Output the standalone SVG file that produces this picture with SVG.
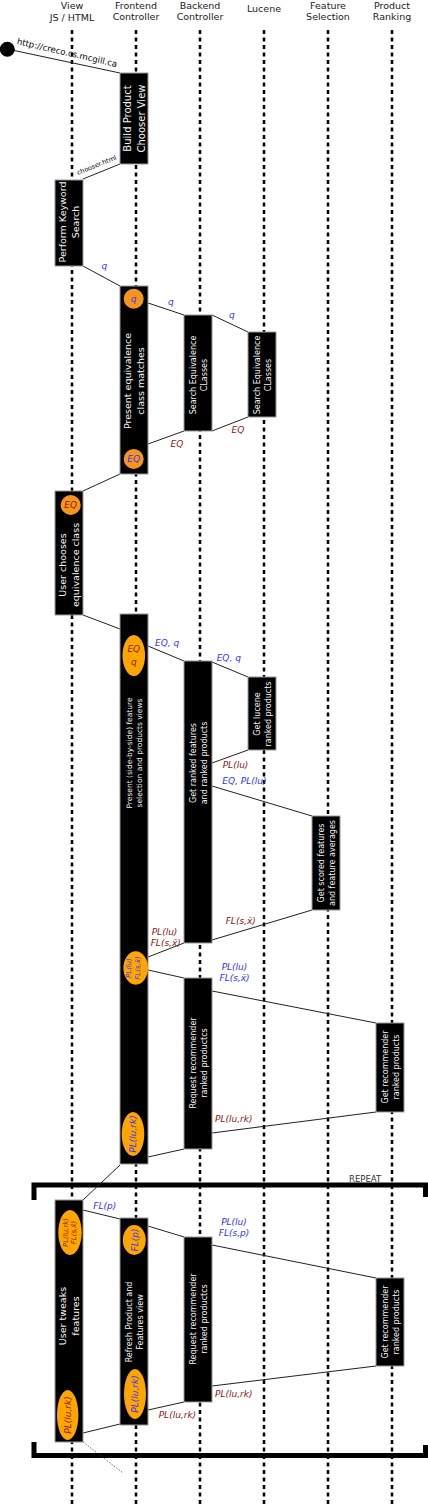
<svg xmlns="http://www.w3.org/2000/svg" width="428" height="1505" viewBox="0 0 428 1505">
<style>
.hd{font-family:"DejaVu Sans",sans-serif;font-size:9.5px;fill:#222;text-anchor:middle}
.ll{stroke:#000;stroke-width:2.5;stroke-dasharray:4 3.5;fill:none}
.box{fill:#000;stroke:#999;stroke-width:1}
.bt{font-family:"DejaVu Sans",sans-serif;fill:#f4f4f4;text-anchor:middle}
.cn{stroke:#222;stroke-width:1;fill:none}
.lb{font-family:"DejaVu Sans",sans-serif;font-style:italic;font-size:9px}
.b{fill:#3333ff}
.r{fill:#8b1a1a}
.oc{fill:#f7941d}
.oe{fill:#ffa500}
.fr{stroke:#000;stroke-width:5;fill:none}
</style>
<rect width="428" height="1505" fill="#fff"/>
<g id="headers">
<text class="hd" x="72" y="9.3">View</text><text class="hd" x="72" y="20.7">JS / HTML</text>
<text class="hd" x="136" y="8.5">Frontend</text><text class="hd" x="136" y="20">Controller</text>
<text class="hd" x="200" y="8.5">Backend</text><text class="hd" x="200" y="20">Controller</text>
<text class="hd" x="264" y="11.7">Lucene</text>
<text class="hd" x="328" y="8.5">Feature</text><text class="hd" x="328" y="20">Selection</text>
<text class="hd" x="392" y="8.5">Product</text><text class="hd" x="392" y="20">Ranking</text>
</g>
<g id="lifelines">
<line class="ll" x1="72" y1="30" x2="72" y2="1505"/>
<line class="ll" x1="136" y1="30" x2="136" y2="1505"/>
<line class="ll" x1="200" y1="30" x2="200" y2="1505"/>
<line class="ll" x1="264" y1="30" x2="264" y2="1505"/>
<line class="ll" x1="328" y1="30" x2="328" y2="1505"/>
<line class="ll" x1="392" y1="30" x2="392" y2="1505"/>
</g>
<g id="repeat-frame">
<path class="fr" d="M34,1200 V1185 H425.5 V1197"/>
<path class="fr" d="M34,1442 V1455.5 H425.5 V1445"/>
<text x="349" y="1181.5" style="font-family:'DejaVu Sans',sans-serif;font-size:8.5px;fill:#333">REPEAT</text>
</g>
<g id="connectors">
<line class="cn" x1="7" y1="49" x2="120" y2="73"/>
<line class="cn" x1="120" y1="164" x2="83" y2="179"/>
<line class="cn" x1="83" y1="266" x2="120" y2="286"/>
<line class="cn" x1="148" y1="303" x2="184" y2="315"/>
<line class="cn" x1="212" y1="315" x2="248" y2="332"/>
<line class="cn" x1="248" y1="417" x2="212" y2="431"/>
<line class="cn" x1="184" y1="431" x2="148" y2="444"/>
<line class="cn" x1="120" y1="474" x2="83" y2="491"/>
<line class="cn" x1="83" y1="615" x2="120" y2="629"/>
<line class="cn" x1="148" y1="646" x2="184" y2="661"/>
<line class="cn" x1="212" y1="662" x2="248" y2="677"/>
<line class="cn" x1="248" y1="750" x2="212" y2="763"/>
<line class="cn" x1="212" y1="786" x2="312" y2="816"/>
<line class="cn" x1="312" y1="910" x2="212" y2="940"/>
<line class="cn" x1="184" y1="943" x2="148" y2="957"/>
<line class="cn" x1="148" y1="970" x2="184" y2="978"/>
<line class="cn" x1="212" y1="991" x2="376" y2="1023"/>
<line class="cn" x1="376" y1="1112" x2="212" y2="1133"/>
<line class="cn" x1="184" y1="1149" x2="148" y2="1157"/>
<line class="cn" x1="120" y1="1165" x2="83" y2="1200"/>
<line class="cn" x1="83" y1="1210" x2="120" y2="1219"/>
<line class="cn" x1="148" y1="1226" x2="184" y2="1237"/>
<line class="cn" x1="212" y1="1245" x2="376" y2="1278"/>
<line class="cn" x1="376" y1="1366" x2="212" y2="1386"/>
<line class="cn" x1="184" y1="1402" x2="148" y2="1410"/>
<line class="cn" x1="120" y1="1424" x2="83" y2="1433"/>
<line x1="83" y1="1442" x2="123" y2="1473" style="stroke:#444;stroke-width:0.8;stroke-dasharray:1.5 1.5"/>
<text class="lb" x="0" y="0" transform="translate(16.5,44) rotate(13)" style="font-style:normal;font-size:8.6px;fill:#000">http://creco.cs.mcgill.ca</text>
<text class="lb" x="0" y="0" transform="translate(78,175) rotate(-22)" style="font-style:normal;font-size:6.5px;fill:#000">chooser.html</text>
<text class="lb b" x="101.5" y="269">q</text>
<text class="lb b" x="168" y="305">q</text>
<text class="lb b" x="229" y="318">q</text>
<text class="lb r" x="231.5" y="433">EQ</text>
<text class="lb r" x="170.5" y="446.5">EQ</text>
<text class="lb b" x="155" y="646">EQ, q</text>
<text class="lb b" x="216.7" y="661">EQ, q</text>
<text class="lb r" x="222.7" y="768">PL(lu)</text>
<text class="lb b" x="222.3" y="784">EQ, PL(lu)</text>
<text class="lb r" x="225.7" y="923.5">FL(s,x̄)</text>
<text class="lb r" x="151.7" y="935">PL(lu)</text>
<text class="lb r" x="150.7" y="946">FL(s,x̄)</text>
<text class="lb b" x="234.5" y="970" text-anchor="middle">PL(lu)</text>
<text class="lb b" x="234.5" y="981" text-anchor="middle">FL(s,x̄)</text>
<text class="lb r" x="215" y="1122">PL(lu,rk)</text>
<text class="lb b" x="93.3" y="1209">FL(p)</text>
<text class="lb b" x="234" y="1225" text-anchor="middle">PL(lu)</text>
<text class="lb b" x="234" y="1235.5" text-anchor="middle">FL(s,p)</text>
<text class="lb r" x="215" y="1397">PL(lu,rk)</text>
<text class="lb r" x="158.7" y="1418">PL(lu,rk)</text>
</g>
<g id="start"><circle cx="7.3" cy="49.3" r="7.5" fill="#000"/></g>
<g id="build-chooser-view">
<rect class="box" x="120" y="73" width="28" height="91"/>
<text class="bt" transform="translate(134,118.5) rotate(-90)" style="font-size:10px"><tspan x="0" y="-3">Build Product</tspan><tspan x="0" y="10.5">Chooser View</tspan></text>
</g>
<g id="perform-keyword-search">
<rect class="box" x="55" y="180" width="28" height="86"/>
<text class="bt" transform="translate(69,222) rotate(-90)" style="font-size:9.5px"><tspan x="0" y="-2.8">Perform Keyword</tspan><tspan x="0" y="10">Search</tspan></text>
</g>
<g id="present-equivalence">
<rect class="box" x="120" y="286" width="28" height="188"/>
<text class="bt" transform="translate(134,381) rotate(-90)" style="font-size:9.5px"><tspan x="0" y="-2.8">Present equivalence</tspan><tspan x="0" y="10">class matches</tspan></text>
<circle class="oc" cx="133.7" cy="298.7" r="10"/>
<text class="lb b" x="133.7" y="302" text-anchor="middle">q</text>
<circle class="oc" cx="133.7" cy="459" r="10"/>
<text class="lb b" x="133.7" y="462.3" text-anchor="middle">EQ</text>
</g>
<g id="backend-search-eq">
<rect class="box" x="184" y="315" width="28" height="116"/>
<text class="bt" transform="translate(198,375) rotate(-90)" style="font-size:8px"><tspan x="0" y="-2.4">Search Equivalence</tspan><tspan x="0" y="8.6">CLasses</tspan></text>
</g>
<g id="lucene-search-eq">
<rect class="box" x="248" y="332" width="28" height="85"/>
<text class="bt" transform="translate(262,375) rotate(-90)" style="font-size:8px"><tspan x="0" y="-2.4">Search Equivalence</tspan><tspan x="0" y="8.6">CLasses</tspan></text>
</g>
<g id="user-chooses">
<rect class="box" x="55" y="491" width="28" height="124"/>
<text class="bt" transform="translate(69,565) rotate(-90)" style="font-size:9.5px"><tspan x="0" y="-2.8">User chooses</tspan><tspan x="0" y="10">equivalence class</tspan></text>
<circle class="oc" cx="70.7" cy="505" r="10"/>
<text class="lb r" x="70.7" y="508.3" text-anchor="middle">EQ</text>
</g>
<g id="present-side-by-side">
<rect class="box" x="120" y="614" width="28" height="550"/>
<text class="bt" transform="translate(134,753) rotate(-90)" style="font-size:7.5px"><tspan x="0" y="-2.2">Present (side-by-side) feature</tspan><tspan x="0" y="8">selection and products views</tspan></text>
<ellipse class="oe" cx="133.8" cy="655.5" rx="11.3" ry="20.5"/>
<text class="lb r" x="133.8" y="652" text-anchor="middle">EQ</text>
<text class="lb r" x="133.8" y="665" text-anchor="middle">q</text>
<ellipse class="oe" cx="135.7" cy="968" rx="12.3" ry="16.7"/>
<text class="lb b" transform="translate(135.7,968) rotate(-90)" style="font-size:7px" text-anchor="middle"><tspan x="0" y="-5">PL(lu)</tspan><tspan x="0" y="4">FL(s,x̄)</tspan></text>
<ellipse class="oe" cx="133" cy="1134" rx="11.3" ry="22"/>
<text class="lb b" transform="translate(133,1134) rotate(-90)" text-anchor="middle" x="0" y="3.3">PL(lu,rk)</text>
</g>
<g id="get-ranked-features">
<rect class="box" x="184" y="661" width="28" height="282"/>
<text class="bt" transform="translate(198,763) rotate(-90)" style="font-size:8px"><tspan x="0" y="-2.4">Get ranked features</tspan><tspan x="0" y="8.6">and ranked products</tspan></text>
</g>
<g id="get-lucene-ranked">
<rect class="box" x="248" y="677" width="28" height="73"/>
<text class="bt" transform="translate(262,714) rotate(-90)" style="font-size:8px"><tspan x="0" y="-2.4">Get lucene</tspan><tspan x="0" y="8.6">ranked products</tspan></text>
</g>
<g id="get-scored-features">
<rect class="box" x="312" y="816" width="28" height="94"/>
<text class="bt" transform="translate(326,863) rotate(-90)" style="font-size:8px"><tspan x="0" y="-2.4">Get scored features</tspan><tspan x="0" y="8.6">and feature averages</tspan></text>
</g>
<g id="request-recommender-1">
<rect class="box" x="184" y="978" width="28" height="171"/>
<text class="bt" transform="translate(198,1063) rotate(-90)" style="font-size:8px"><tspan x="0" y="-2.4">Request recommender</tspan><tspan x="0" y="8.6">ranked productcs</tspan></text>
</g>
<g id="get-recommender-1">
<rect class="box" x="376" y="1023" width="28" height="89"/>
<text class="bt" transform="translate(390,1067) rotate(-90)" style="font-size:8px"><tspan x="0" y="-2.4">Get recommender</tspan><tspan x="0" y="8.6">ranked products</tspan></text>
</g>
<g id="user-tweaks">
<rect class="box" x="55" y="1200" width="28" height="242"/>
<text class="bt" transform="translate(69,1316) rotate(-90)" style="font-size:9.5px"><tspan x="0" y="-2.8">User tweaks</tspan><tspan x="0" y="10">features</tspan></text>
<ellipse class="oe" cx="70" cy="1232.5" rx="11.7" ry="22.5"/>
<text class="lb r" transform="translate(70,1232.5) rotate(-90)" style="font-size:7px" text-anchor="middle"><tspan x="0" y="-2.3">PL(lu,rk)</tspan><tspan x="0" y="6">FL(s,x̄)</tspan></text>
<ellipse class="oe" cx="67.7" cy="1415" rx="10.7" ry="25"/>
<text class="lb r" transform="translate(67.7,1415) rotate(-90)" text-anchor="middle" x="0" y="3.3">PL(lu,rk)</text>
</g>
<g id="refresh-view">
<rect class="box" x="120" y="1218" width="28" height="207"/>
<text class="bt" transform="translate(134,1322) rotate(-90)" style="font-size:8px"><tspan x="0" y="-2.4">Refresh Product and</tspan><tspan x="0" y="8.6">Features view</tspan></text>
<ellipse class="oe" cx="134.3" cy="1240" rx="11.5" ry="15"/>
<text class="lb b" transform="translate(134.3,1240) rotate(-90)" text-anchor="middle" x="0" y="3.3">FL(p)</text>
<ellipse class="oe" cx="135" cy="1394" rx="11" ry="25"/>
<text class="lb b" transform="translate(135,1394) rotate(-90)" text-anchor="middle" x="0" y="3.3">PL(lu,rk)</text>
</g>
<g id="request-recommender-2">
<rect class="box" x="184" y="1237" width="28" height="165"/>
<text class="bt" transform="translate(198,1319) rotate(-90)" style="font-size:8px"><tspan x="0" y="-2.4">Request recommender</tspan><tspan x="0" y="8.6">ranked productcs</tspan></text>
</g>
<g id="get-recommender-2">
<rect class="box" x="376" y="1278" width="28" height="88"/>
<text class="bt" transform="translate(390,1322) rotate(-90)" style="font-size:8px"><tspan x="0" y="-2.4">Get recommender</tspan><tspan x="0" y="8.6">ranked products</tspan></text>
</g>
</svg>
